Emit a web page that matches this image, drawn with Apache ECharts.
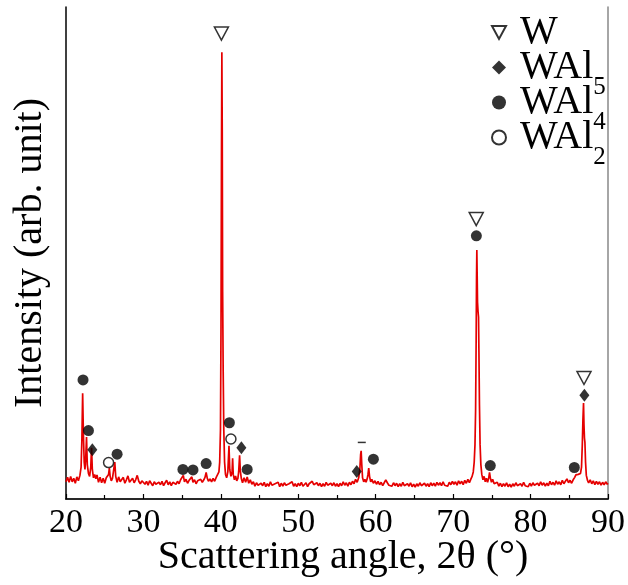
<!DOCTYPE html>
<html>
<head>
<meta charset="utf-8">
<script src="https://cdn.jsdelivr.net/npm/echarts@6/dist/echarts.min.js"></script>
<style>
  html, body { margin: 0; padding: 0; background: #fff; }
  #chart { width: 628px; height: 585px; }
</style>
</head>
<body>
<div id="chart"></div>
<script>
// XRD scan: [2θ (°), intensity (arb. unit)]
const scan = [
  [20.0,3.5],[20.2,4.4],[20.4,3.4],[20.6,4.6],[20.8,3.5],[21.0,4.2],[21.2,3.2],[21.4,4.5],[21.6,3.7],[21.8,4.8],
  [21.95,6.5],[22.05,12],[22.15,21.5],[22.25,13],[22.35,7.5],[22.45,6.0],[22.55,8.5],[22.65,12.6],[22.75,7.0],[22.9,5.2],
  [23.05,4.6],[23.2,6.5],[23.3,10.4],[23.4,6.0],[23.55,4.3],[23.7,5.0],[23.85,4.1],[24.0,4.9],[24.2,3.4],[24.4,4.4],
  [24.6,3.3],[24.8,4.2],[25.0,3.2],[25.2,4.3],[25.4,4.0],[25.5,5.0],[25.6,6.3],[25.7,4.6],[25.85,3.7],[26.0,4.2],
  [26.15,4.4],[26.3,7.5],[26.42,4.6],[26.6,3.4],[26.8,4.5],[27.0,3.5],[27.2,3.3],[27.4,4.4],[27.6,3.2],[27.8,3.9],
  [28.0,4.7],[28.2,3.4],[28.4,3.1],[28.6,4.2],[28.8,3.3],[29.0,3.9],[29.2,4.8],[29.4,3.6],[29.6,3.1],[29.8,3.7],
  [30.0,4.0],[30.2,3.0],[30.4,3.6],[30.6,2.8],[30.8,3.7],[31.0,3.2],[31.2,2.7],[31.4,3.5],[31.6,3.0],[31.8,2.6],
  [32.0,3.4],[32.2,2.9],[32.4,3.6],[32.6,2.7],[32.8,3.3],[33.0,3.8],[33.2,2.9],[33.4,3.5],[33.6,2.7],[33.8,3.4],
  [34.0,3.7],[34.2,3.0],[34.4,3.6],[34.6,3.1],[34.8,3.9],[35.0,4.3],[35.15,4.8],[35.3,3.5],[35.5,4.0],[35.7,3.2],
  [35.9,3.8],[36.1,3.9],[36.25,4.5],[36.4,3.4],[36.6,3.9],[36.8,3.1],[37.0,3.7],[37.2,3.3],[37.4,4.0],[37.6,3.4],
  [37.8,3.9],[37.95,4.4],[38.1,5.4],[38.25,4.2],[38.4,3.6],[38.6,4.1],[38.8,3.5],[39.0,4.2],[39.2,3.6],[39.4,4.4],
  [39.6,4.6],[39.75,5.5],[39.85,7.5],[39.95,14],[40.02,35],[40.08,70],[40.13,90.8],[40.18,75],[40.23,42],[40.3,26],
  [40.38,14],[40.48,7.5],[40.6,5.0],[40.75,4.3],[40.9,5.5],[41.05,10.8],[41.15,6.0],[41.3,4.6],[41.45,5.5],[41.52,8.3],
  [41.6,5.0],[41.75,3.9],[41.9,4.7],[42.05,3.7],[42.2,4.2],[42.3,5.5],[42.42,8.9],[42.52,5.6],[42.65,4.1],[42.8,3.3],
  [43.0,4.3],[43.2,3.4],[43.4,4.5],[43.6,3.2],[43.8,3.9],[44.0,3.0],[44.2,3.5],[44.4,2.6],[44.6,3.3],[44.8,2.8],
  [45.0,2.4],[45.2,3.2],[45.4,2.7],[45.6,3.4],[45.8,2.5],[46.0,3.1],[46.2,2.6],[46.4,3.5],[46.6,2.8],[46.8,2.4],
  [47.0,3.1],[47.2,2.7],[47.4,3.4],[47.6,2.5],[47.8,3.2],[48.0,2.6],[48.2,3.3],[48.4,2.8],[48.6,2.4],[48.8,3.1],
  [49.0,2.7],[49.2,3.5],[49.4,2.6],[49.6,3.1],[49.8,2.5],[50.0,3.2],[50.2,2.7],[50.4,3.4],[50.6,2.6],[50.8,3.0],
  [51.0,3.3],[51.2,2.5],[51.4,3.1],[51.6,2.7],[51.8,3.6],[52.0,2.9],[52.2,2.6],[52.4,3.3],[52.6,2.7],[52.8,3.2],
  [53.0,2.5],[53.2,3.1],[53.4,2.6],[53.6,3.4],[53.8,2.8],[54.0,2.5],[54.2,3.2],[54.4,2.7],[54.6,3.3],[54.8,2.6],
  [55.0,3.1],[55.2,2.5],[55.4,3.2],[55.6,2.7],[55.8,3.5],[56.0,2.8],[56.2,3.3],[56.4,2.6],[56.6,3.4],[56.8,2.9],
  [57.0,3.6],[57.2,3.1],[57.4,4.0],[57.6,3.4],[57.8,4.3],[57.95,6.0],[58.05,9.0],[58.12,9.8],[58.2,7.0],[58.3,4.3],
  [58.45,3.5],[58.6,4.0],[58.75,3.4],[58.9,4.1],[59.0,5.0],[59.1,6.3],[59.2,4.6],[59.35,3.5],[59.5,4.0],[59.7,3.2],
  [59.9,3.7],[60.1,3.0],[60.3,3.6],[60.5,2.9],[60.7,3.4],[60.9,2.7],[61.1,3.3],[61.3,3.9],[61.5,3.3],[61.7,2.8],
  [61.9,3.2],[62.1,2.6],[62.3,3.3],[62.5,2.7],[62.7,3.2],[62.9,2.5],[63.1,3.1],[63.3,2.6],[63.5,3.4],[63.7,2.7],
  [63.9,2.4],[64.1,3.1],[64.3,2.6],[64.5,3.3],[64.7,2.5],[64.9,3.0],[65.1,2.4],[65.3,3.1],[65.5,2.6],[65.7,3.3],
  [65.9,2.7],[66.1,2.5],[66.3,3.2],[66.5,2.6],[66.7,3.1],[66.9,2.5],[67.1,3.3],[67.3,2.7],[67.5,3.2],[67.7,2.6],
  [67.9,3.4],[68.1,2.8],[68.3,3.3],[68.5,2.7],[68.7,3.5],[68.9,2.8],[69.1,3.2],[69.3,2.6],[69.5,3.4],[69.7,2.9],
  [69.9,3.6],[70.1,3.0],[70.3,3.5],[70.5,2.8],[70.7,3.7],[70.9,3.1],[71.1,3.6],[71.3,2.9],[71.5,3.8],[71.7,3.2],
  [71.9,4.0],[72.1,3.3],[72.3,4.1],[72.45,4.6],[72.6,5.5],[72.72,7.5],[72.82,11],[72.9,18],[72.97,32],[73.02,45],
  [73.06,50.6],[73.1,46],[73.15,40],[73.22,38],[73.28,37],[73.33,30],[73.4,19],[73.48,11],[73.58,7],[73.7,5.0],
  [73.85,3.9],[74.0,4.6],[74.15,3.5],[74.3,4.2],[74.45,3.4],[74.6,4.3],[74.7,5.4],[74.8,4.3],[74.95,3.4],[75.1,4.0],
  [75.3,3.1],[75.5,2.7],[75.7,3.4],[75.9,2.6],[76.1,3.2],[76.3,2.5],[76.5,3.1],[76.7,2.6],[76.9,3.3],[77.1,2.5],
  [77.3,3.0],[77.5,2.4],[77.7,3.1],[77.9,2.6],[78.1,3.3],[78.3,2.7],[78.5,2.4],[78.7,3.1],[78.9,2.6],[79.1,3.4],
  [79.3,2.7],[79.5,3.1],[79.7,2.5],[79.9,3.2],[80.1,2.6],[80.3,3.3],[80.5,2.8],[80.7,2.5],[80.9,3.2],[81.1,2.7],
  [81.3,3.5],[81.5,2.8],[81.7,3.3],[81.9,2.6],[82.1,3.2],[82.3,2.7],[82.5,3.6],[82.7,2.9],[82.9,3.4],[83.1,2.8],
  [83.3,3.7],[83.5,3.0],[83.7,3.5],[83.9,2.9],[84.1,3.8],[84.3,3.1],[84.5,3.6],[84.7,4.1],[84.9,3.3],[85.1,3.8],
  [85.3,3.2],[85.5,3.9],[85.7,4.4],[85.85,4.9],[86.0,4.5],[86.15,5.0],[86.3,4.7],[86.45,5.2],[86.58,6.5],[86.68,11],
  [86.76,16],[86.84,19.5],[86.9,15],[86.96,12.4],[87.02,11.5],[87.1,7.5],[87.2,4.8],[87.35,3.8],[87.5,3.3],[87.7,3.9],
  [87.9,3.1],[88.1,3.7],[88.3,2.9],[88.5,3.6],[88.7,3.0],[88.9,3.5],[89.1,2.8],[89.3,3.4],[89.5,2.9],[89.7,3.5],
  [89.9,3.0],[90.0,3.2]
];

// Phase markers placed above the reflections: [2θ, height]
const phaseW    = [[40.07,94.6],[72.98,56.9],[86.9,24.6]];
const phaseWAl5 = [[23.4,10.0],[42.65,10.4],[57.55,5.6],[86.95,21.1]];
const phaseWAl4 = [[22.2,24.2],[22.9,13.9],[26.6,9.1],[35.1,6.0],[36.4,5.9],[38.1,7.2],[41.1,15.5],
                   [43.4,6.0],[59.7,8.1],[73.0,53.5],[74.8,6.8],[85.65,6.4]];
const phaseWAl2 = [[25.5,7.4],[41.3,12.2]];
const dashMark  = [[58.2,11.5]];

const phaseNames = ['W', 'WAl5', 'WAl4', 'WAl2'];
const xTicks = { min: 20, max: 90, step: 10 };

const serif = '"Liberation Serif", "DejaVu Serif", serif';

const chart = echarts.init(document.getElementById('chart'), null, { renderer: 'canvas' });

chart.setOption({
  animation: false,
  backgroundColor: '#fff',
  grid: { left: 66, right: 20, top: 7, bottom: 86, containLabel: false, outerBoundsMode: 'none' },
  legend: {
    data: phaseNames,
    orient: 'vertical',
    left: 491,
    top: 0,
    padding: 0,
    itemGap: -30,
    itemWidth: 14,
    itemHeight: 14,
    selectedMode: false,
    formatter: function (name) {
      // chemical formula with subscript count; a blank sub keeps all rows the same height
      const m = name.match(/^(\D+)(\d*)$/);
      return '{b|' + m[1] + '}{s|' + (m[2] || ' ') + '}';
    },
    textStyle: {
      color: '#000',
      fontFamily: serif,
      fontSize: 40,
      padding: [0, 0, 0, 9],
      rich: {
        b: { fontFamily: serif, fontSize: 40, color: '#000', lineHeight: 34 },
        s: { fontFamily: serif, fontSize: 25, color: '#000', padding: [40, 0, 0, 0], lineHeight: 34 }
      }
    }
  },
  xAxis: [{
    type: 'value',
    min: xTicks.min,
    max: xTicks.max,
    interval: xTicks.step,
    name: 'Scattering angle, 2θ (°)',
    nameLocation: 'middle',
    nameGap: 38,
    nameMoveOverlap: false,
    nameTextStyle: { fontFamily: serif, fontSize: 40, color: '#000', padding: [0, 0, 0, 12] },
    axisLine: { lineStyle: { color: '#000', width: 1.5 } },
    axisTick: { inside: true, length: 5, lineStyle: { color: '#000', width: 1.2 } },
    minorTick: { show: true, splitNumber: 2, length: 4, lineStyle: { color: '#000', width: 1.2 } },
    axisLabel: { fontFamily: serif, fontSize: 34, color: '#000', margin: 7 },
    splitLine: { show: false }
  }, {
    type: 'value',
    position: 'top',
    min: xTicks.min,
    max: xTicks.max,
    axisLine: { show: true, lineStyle: { color: '#222', width: 1.5 } },
    axisTick: { show: false },
    axisLabel: { show: false },
    splitLine: { show: false }
  }],
  yAxis: [{
    type: 'value',
    min: 0,
    max: 100,
    name: 'Intensity (arb. unit)',
    nameLocation: 'middle',
    nameGap: 16,
    nameMoveOverlap: false,
    nameTextStyle: { fontFamily: serif, fontSize: 40, color: '#000' },
    axisLine: { show: true, lineStyle: { color: '#000', width: 1.5 } },
    axisTick: { show: false },
    axisLabel: { show: false },
    splitLine: { show: false }
  }, {
    type: 'value',
    position: 'right',
    min: 0,
    max: 100,
    axisLine: { show: true, lineStyle: { color: '#888', width: 1.5 } },
    axisTick: { show: false },
    axisLabel: { show: false },
    splitLine: { show: false }
  }],
  series: [
    {
      name: 'scan',
      type: 'line',
      data: scan,
      showSymbol: false,
      symbol: 'none',
      lineStyle: { color: '#e50000', width: 1.7 },
      z: 1
    },
    {
      name: 'W',
      type: 'scatter',
      data: phaseW,
      symbol: 'path://M0,0L12,0L6,11Z',
      symbolSize: [14, 13],
      itemStyle: { color: '#fff', borderColor: '#000', borderWidth: 1.5 },
      z: 3
    },
    {
      name: 'WAl5',
      type: 'scatter',
      data: phaseWAl5,
      symbol: 'diamond',
      symbolSize: [10, 13],
      itemStyle: { color: '#000' },
      z: 3
    },
    {
      name: 'WAl4',
      type: 'scatter',
      data: phaseWAl4,
      symbol: 'circle',
      symbolSize: 11,
      itemStyle: { color: '#000' },
      z: 3
    },
    {
      name: 'WAl2',
      type: 'scatter',
      data: phaseWAl2,
      symbol: 'circle',
      symbolSize: 10,
      itemStyle: { color: '#fff', borderColor: '#000', borderWidth: 1.5 },
      z: 3
    },
    {
      name: 'mark',
      type: 'scatter',
      data: dashMark,
      symbol: 'rect',
      symbolSize: [8, 1.5],
      itemStyle: { color: '#000' },
      z: 3
    }
  ]
});
</script>
</body>
</html>
